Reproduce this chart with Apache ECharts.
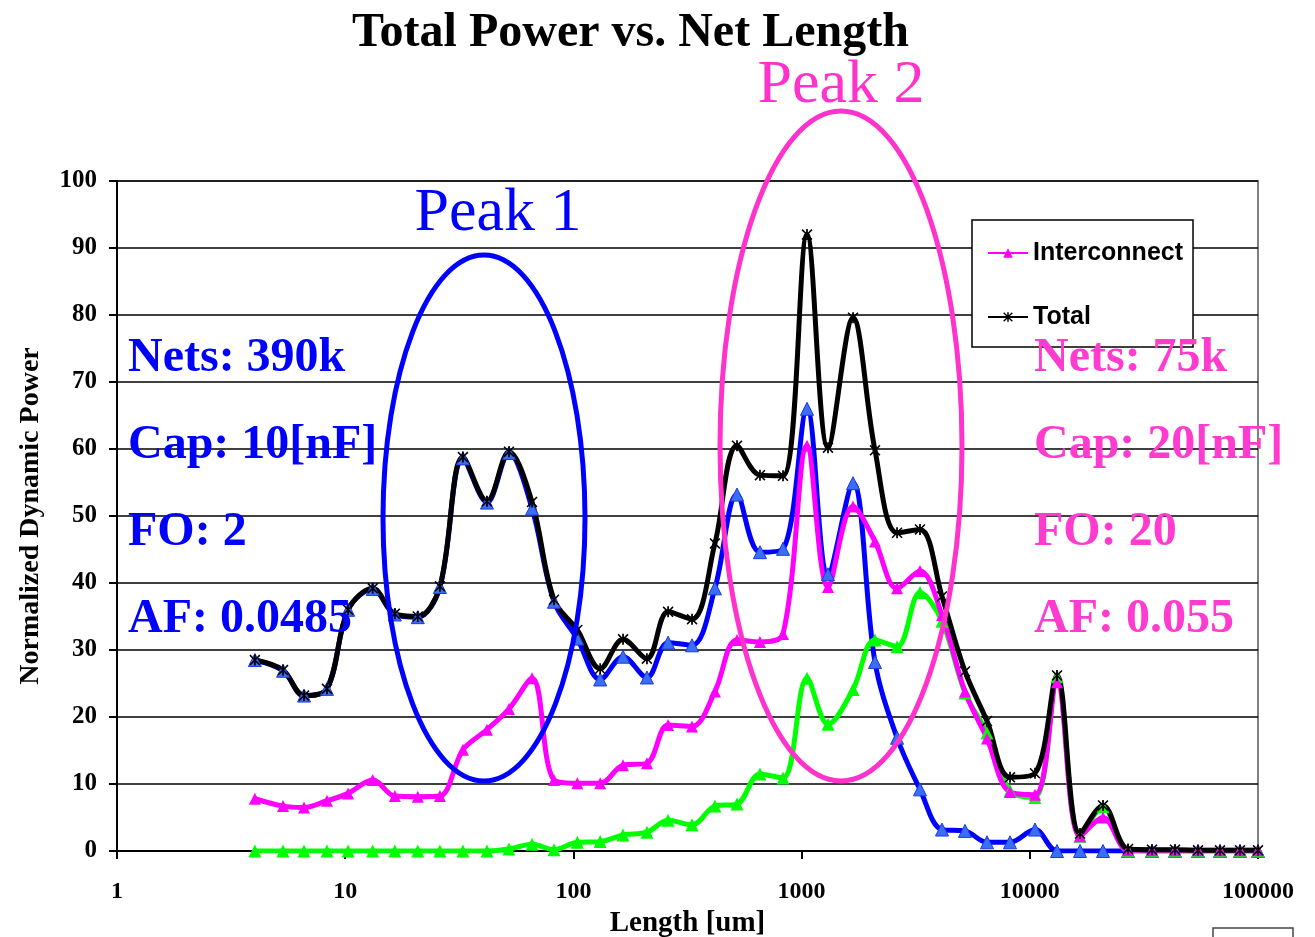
<!DOCTYPE html>
<html>
<head>
<meta charset="utf-8">
<title>Total Power vs. Net Length</title>
<script src="https://cdn.jsdelivr.net/npm/echarts@6/dist/echarts.min.js"></script>
<style>
  html, body { margin: 0; padding: 0; background: #fff; }
  #chart { width: 1315px; height: 937px; }
</style>
</head>
<body>
<div id="chart"></div>
<script>
// net length bins [um]
var lengths = [4.02, 5.34, 6.6, 8.32, 10.3, 13.2, 16.5, 20.8, 26, 32.8, 41.8, 52.2, 65.9, 82.2, 104,
    131, 165, 210, 260, 331, 417, 521, 657, 829, 1056, 1305, 1680, 2097, 2620, 3302, 4123,
    5200, 6493, 8190, 10540, 13160, 16600, 20930, 26940, 34310, 43290, 54600, 68150, 83400, 100000];

var total = [28.5, 27.0, 23.2, 24.2, 36.0, 39.2, 35.4, 35.0, 39.5, 58.8, 52.2, 59.6, 52.1, 37.5, 33.0,
    27.2, 31.6, 28.7, 35.7, 34.6, 45.9, 60.5, 56.1, 56.0, 92.0, 60.2, 79.6, 59.8, 47.5, 48.0, 38.0,
    26.8, 19.4, 11.0, 11.6, 26.2, 2.6, 6.8, 0.3, 0.2, 0.2, 0.1, 0.1, 0.1, 0.1];

var local = [28.5, 26.9, 23.2, 24.2, 36.0, 39.1, 35.3, 34.9, 39.4, 58.6, 52.0, 59.4, 51.1, 37.2, 31.7,
    25.6, 29.0, 25.9, 31.1, 30.7, 39.2, 53.2, 44.6, 45.1, 66.0, 41.3, 54.9, 28.2, 16.9, 9.2, 3.2,
    3.0, 1.3, 1.3, 3.2, 0, 0, 0, 0, 0, 0, 0, 0, 0, 0];

var global = [0, 0, 0, 0, 0, 0, 0, 0, 0, 0, 0, 0.3, 1.0, 0.2, 1.3,
    1.4, 2.4, 2.8, 4.6, 3.9, 6.7, 7.0, 11.5, 10.9, 25.8, 18.9, 24.1, 31.5, 30.5, 38.6, 34.3,
    23.6, 17.6, 9.0, 8.0, 26.0, 2.2, 6.6, 0, 0, 0, 0, 0, 0, 0];

var interconnect = [7.8, 6.7, 6.5, 7.5, 8.6, 10.6, 8.2, 8.1, 8.2, 15.1, 18.1, 21.2, 25.8, 10.6, 10.1,
    10.1, 12.8, 13.1, 18.8, 18.6, 23.8, 31.5, 31.2, 32.4, 60.5, 39.4, 51.4, 46.2, 39.2, 41.8, 35.2,
    23.8, 16.8, 8.8, 8.4, 25.2, 2.2, 5.0, 0.1, 0.1, 0.1, 0.1, 0.1, 0.1, 0.1];

var yTicks = [0, 10, 20, 30, 40, 50, 60, 70, 80, 90, 100];

var leftNotes = ['Nets: 390k', 'Cap: 10[nF]', 'FO: 2', 'AF: 0.0485'];
var rightNotes = ['Nets: 75k', 'Cap: 20[nF]', 'FO: 20', 'AF: 0.055'];

var serif = '"Liberation Serif", "Times New Roman", serif';
var starPath = 'path://M0,1L1,0L5,4L9,0L10,1L6,5L10,9L9,10L5,6L1,10L0,9L4,5Z M4.2,0L5.8,0L5.8,10L4.2,10Z';

function pairs(ys) {
    return lengths.map(function (x, i) { return [x, ys[i]]; });
}

function note(txt, x, y, color) {
    return {
        type: 'text', z: 100, x: x, y: y,
        style: {
            text: txt, fill: color, font: 'bold 48px ' + serif,
            textAlign: 'left', textVerticalAlign: 'middle', align: 'left', verticalAlign: 'middle'
        }
    };
}

var graphics = [
    {type: 'ellipse', z: 90, shape: {cx: 484, cy: 518, rx: 101, ry: 263},
        style: {fill: 'none', stroke: '#0000ff', lineWidth: 5}},
    {type: 'ellipse', z: 90, shape: {cx: 841, cy: 446, rx: 121, ry: 335},
        style: {fill: 'none', stroke: '#ff33cc', lineWidth: 5}},
    {type: 'text', z: 100, x: 498, y: 214,
        style: {text: 'Peak 1', fill: '#0000ff', font: '62px ' + serif,
            textAlign: 'center', textVerticalAlign: 'middle', align: 'center', verticalAlign: 'middle'}},
    {type: 'text', z: 100, x: 841, y: 86,
        style: {text: 'Peak 2', fill: '#ff33cc', font: '62px ' + serif,
            textAlign: 'center', textVerticalAlign: 'middle', align: 'center', verticalAlign: 'middle'}},
    {type: 'rect', z: 100, shape: {x: 1213, y: 928, width: 80, height: 20},
        style: {fill: '#fff', stroke: '#444', lineWidth: 1.5}}
];
leftNotes.forEach(function (t, i) { graphics.push(note(t, 128, 359 + i * 87, '#0000ff')); });
rightNotes.forEach(function (t, i) { graphics.push(note(t, 1034, 359 + i * 87, '#ff3ccf')); });

var chart = echarts.init(document.getElementById('chart'));
chart.setOption({
    animation: false,
    backgroundColor: '#fff',
    title: {
        text: 'Total Power vs. Net Length',
        left: 347, top: 5,
        textStyle: {fontFamily: serif, fontWeight: 'bold', fontSize: 48, color: '#000'}
    },
    legend: {
        data: ['Interconnect', 'Total'],
        orient: 'vertical',
        left: 972, top: 220,
        padding: [20, 10, 17, 15],
        itemWidth: 40, itemHeight: 12, itemGap: 38,
        backgroundColor: '#fff', borderColor: '#000', borderWidth: 1.5,
        textStyle: {fontFamily: 'Liberation Sans', fontWeight: 'bold', fontSize: 25, color: '#000', lineHeight: 26}
    },
    grid: {
        left: 117, right: 57, top: 181, bottom: 86,
        containLabel: false, outerBoundsMode: 'none',
        show: true, borderColor: '#808080', borderWidth: 2
    },
    xAxis: {
        type: 'log', logBase: 10, min: 1, max: 100000,
        name: 'Length [um]', nameLocation: 'middle', nameGap: 57,
        nameTextStyle: {fontFamily: serif, fontWeight: 'bold', fontSize: 29, color: '#000'},
        axisLine: {lineStyle: {color: '#000', width: 2}},
        axisTick: {length: 8, lineStyle: {color: '#000', width: 2}},
        minorTick: {show: false},
        splitLine: {show: false},
        axisLabel: {
            margin: 29, color: '#000', fontFamily: serif, fontWeight: 'bold', fontSize: 24,
            formatter: function (v) { return String(Math.round(v)); }
        }
    },
    yAxis: {
        type: 'value', min: yTicks[0], max: yTicks[yTicks.length - 1], interval: 10,
        name: 'Normalized Dynamic Power', nameLocation: 'middle', nameGap: 72,
        nameTextStyle: {fontFamily: serif, fontWeight: 'bold', fontSize: 28, color: '#000'},
        axisLine: {show: true, lineStyle: {color: '#000', width: 2}},
        axisTick: {show: true, length: 8, lineStyle: {color: '#000', width: 2}},
        splitLine: {lineStyle: {color: '#000', width: 1.5}},
        axisLabel: {margin: 20, color: '#000', fontFamily: serif, fontWeight: 'bold', fontSize: 25}
    },
    graphic: graphics,
    series: [
        {
            name: 'Local', type: 'line', smooth: 0.35, data: pairs(local),
            symbol: 'triangle', symbolSize: 13,
            lineStyle: {color: '#0000ff', width: 5},
            itemStyle: {color: '#3a6ef5', borderColor: '#1a3adf', borderWidth: 1}
        },
        {
            name: 'Global', type: 'line', smooth: 0.35, data: pairs(global),
            symbol: 'triangle', symbolSize: 13,
            lineStyle: {color: '#00ff00', width: 5},
            itemStyle: {color: '#00ff00'}
        },
        {
            name: 'Interconnect', type: 'line', smooth: 0.35, data: pairs(interconnect),
            symbol: 'triangle', symbolSize: 12,
            lineStyle: {color: '#ff00ff', width: 5},
            itemStyle: {color: '#ff00ff'}
        },
        {
            name: 'Total', type: 'line', smooth: 0.35, data: pairs(total),
            symbol: starPath, symbolSize: 11,
            lineStyle: {color: '#000', width: 5},
            itemStyle: {color: '#000'}
        }
    ]
});
window.onresize = function () {
    chart.resize();
};
</script>
</body>
</html>
